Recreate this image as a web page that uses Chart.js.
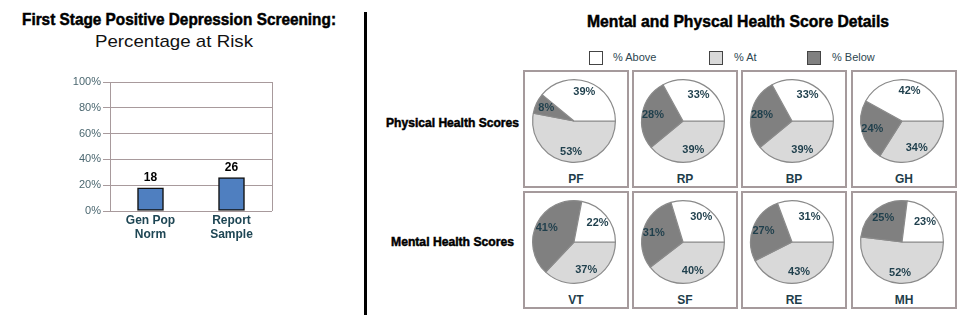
<!DOCTYPE html>
<html>
<head>
<meta charset="utf-8">
<script src="https://cdn.jsdelivr.net/npm/chart.js@4"></script>
<style>
  body { margin: 0; background: #fff; }
  #page { position: relative; width: 969px; height: 327px; overflow: hidden; font-family: "Liberation Sans", Arial, sans-serif; }
  .abs { position: absolute; }
  .fit { position: absolute; white-space: nowrap; transform-origin: 0 0; }
  .hd { font-weight: bold; color: #000; -webkit-text-stroke: 0.5px #000; }
  .box { position: absolute; width: 102px; height: 114px; border: 2px solid #a59a9c; }
  .pname { position: absolute; width: 102px; left: 0; top: 100px; text-align: center; font: bold 12px "Liberation Sans", Arial, sans-serif; color: #1e3d4a; }
  .sw { position: absolute; width: 12px; height: 12px; border: 1px solid #444; top: 51px; }
  .lg { position: absolute; top: 51px; font-size: 11px; color: #2d4650; }
</style>
</head>
<body>
<div id="page">
  <div class="fit hd" data-x="22" data-w="314" style="top:10px;font-size:17px;">First Stage Positive Depression Screening:</div>
  <div class="fit" data-x="95" data-w="158" style="top:32px;font-size:17px;color:#111;">Percentage at Risk</div>
  <canvas id="bar" class="abs" width="240" height="180" style="left:50px;top:70px;"></canvas>

  <div class="abs" style="left:364px;top:12px;width:3px;height:303px;background:#000;"></div>

  <div class="fit hd" data-x="587" data-w="302" style="top:12px;font-size:17px;">Mental and Physcal Health Score Details</div>
  <div class="sw" style="left:589px;background:#fff;"></div>
  <div class="lg" style="left:613px;">% Above</div>
  <div class="sw" style="left:709px;background:#d9d9d9;"></div>
  <div class="lg" style="left:734px;">% At</div>
  <div class="sw" style="left:807px;background:#808080;"></div>
  <div class="lg" style="left:832px;">% Below</div>

  <div class="fit hd" data-x="386" data-w="133" style="top:115px;font-size:13px;">Physical Health Scores</div>
  <div class="fit hd" data-x="391" data-w="123" style="top:234px;font-size:13px;">Mental Health Scores</div>
  <div id="pies"></div>
</div>
<script>
const barCategories = [['Gen Pop', 'Norm'], ['Report', 'Sample']];
const barValues = [18, 26];

const pieNames = ['PF', 'RP', 'BP', 'GH', 'VT', 'SF', 'RE', 'MH'];
const aboveValues = [39, 33, 33, 42, 22, 30, 31, 23];
const atValues = [53, 39, 39, 34, 37, 40, 43, 52];
const belowValues = [8, 28, 28, 24, 41, 31, 27, 25];

// squeeze headings into the width they take in the original (condensed face)
document.querySelectorAll('.fit').forEach(el => {
  el.style.left = el.dataset.x + 'px';
  const w = el.getBoundingClientRect().width;
  el.style.transform = 'scaleX(' + (el.dataset.w / w) + ')';
});

Chart.defaults.font.family = '"Liberation Sans", Arial, sans-serif';

// right border of the plot + value labels over the bars
const barExtras = {
  id: 'barExtras',
  afterDatasetsDraw(chart) {
    const ctx = chart.ctx;
    const a = chart.chartArea;
    ctx.save();
    ctx.strokeStyle = '#a89a9c';
    ctx.lineWidth = 1;
    ctx.beginPath();
    ctx.moveTo(Math.round(a.right) + 0.5, a.top);
    ctx.lineTo(Math.round(a.right) + 0.5, a.bottom);
    ctx.stroke();
    ctx.fillStyle = '#000';
    ctx.font = 'bold 12px "Liberation Sans", Arial, sans-serif';
    ctx.textAlign = 'center';
    ctx.textBaseline = 'bottom';
    chart.getDatasetMeta(0).data.forEach((bar, i) => {
      ctx.fillText(barValues[i], bar.x, bar.y - 4);
    });
    ctx.restore();
  }
};

new Chart(document.getElementById('bar'), {
  type: 'bar',
  data: {
    labels: barCategories,
    datasets: [{
      data: barValues,
      backgroundColor: '#4f7fc0',
      borderColor: '#111',
      borderWidth: 1.5,
      borderSkipped: false,
      barThickness: 26
    }]
  },
  options: {
    responsive: false,
    animation: false,
    layout: { padding: { top: 12, right: 18, left: 0, bottom: 0 } },
    plugins: { legend: { display: false }, tooltip: { enabled: false } },
    scales: {
      x: {
        grid: { display: false, drawTicks: false, tickLength: 0 },
        border: { display: false },
        ticks: { color: '#1e4654', font: { size: 12, weight: 'bold' }, padding: 2 },
        afterFit(s) { s.height = 39; }
      },
      y: {
        min: 0, max: 100,
        ticks: { stepSize: 20, callback: v => v + '%', color: '#4b6770', font: { size: 11 }, padding: 2 },
        grid: { color: '#a89a9c', tickLength: 7 },
        border: { color: '#a89a9c' },
        afterFit(s) { s.width = 60; }
      }
    }
  },
  plugins: [barExtras]
});

// percentage labels inside the slices
const sliceLabels = {
  id: 'sliceLabels',
  afterDatasetsDraw(chart) {
    const ctx = chart.ctx;
    const ds = chart.data.datasets[0];
    ctx.save();
    ctx.fillStyle = '#1f3f4c';
    ctx.font = 'bold 11px "Liberation Sans", Arial, sans-serif';
    ctx.textAlign = 'center';
    ctx.textBaseline = 'middle';
    chart.getDatasetMeta(0).data.forEach((arc, i) => {
      const mid = (arc.startAngle + arc.endAngle) / 2;
      const r = arc.outerRadius * 0.74;
      ctx.fillText(ds.data[i] + '%', arc.x + Math.cos(mid) * r, arc.y + Math.sin(mid) * r);
    });
    ctx.restore();
  }
};

const boxLefts = [523, 632, 741, 851];
const boxTops = [70, 191];
const holder = document.getElementById('pies');
pieNames.forEach((name, i) => {
  const box = document.createElement('div');
  box.className = 'box';
  box.style.left = boxLefts[i % 4] + 'px';
  box.style.top = boxTops[Math.floor(i / 4)] + 'px';
  const cv = document.createElement('canvas');
  cv.width = 90; cv.height = 90;
  cv.style.position = 'absolute';
  cv.style.left = '4px';
  cv.style.top = '4px';
  box.appendChild(cv);
  const lab = document.createElement('div');
  lab.className = 'pname';
  lab.textContent = name;
  box.appendChild(lab);
  holder.appendChild(box);

  new Chart(cv, {
    type: 'pie',
    data: {
      labels: ['% At', '% Below', '% Above'],
      datasets: [{
        data: [atValues[i], belowValues[i], aboveValues[i]],
        backgroundColor: ['#d9d9d9', '#808080', '#ffffff'],
        borderColor: '#8a8a8a',
        borderWidth: 1.2
      }]
    },
    options: {
      responsive: false,
      animation: false,
      rotation: 90,
      layout: { padding: 3 },
      plugins: { legend: { display: false }, tooltip: { enabled: false } }
    },
    plugins: [sliceLabels]
  });
});
</script>
</body>
</html>
